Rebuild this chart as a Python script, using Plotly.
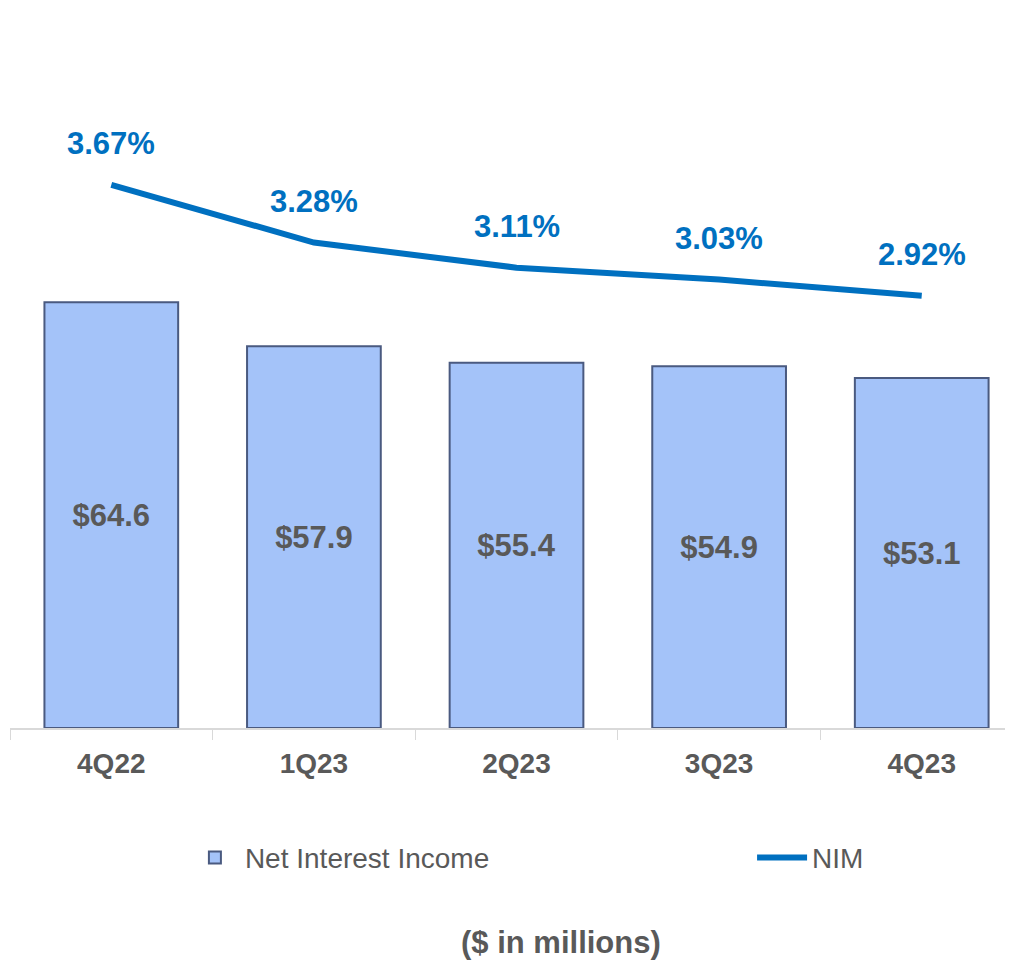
import plotly.graph_objects as go

quarters = ["4Q22", "1Q23", "2Q23", "3Q23", "4Q23"]
nii = [64.6, 57.9, 55.4, 54.9, 53.1]
nim = [3.67, 3.28, 3.11, 3.03, 2.92]
nii_labels = ["$64.6", "$57.9", "$55.4", "$54.9", "$53.1"]
nim_labels = ["3.67%", "3.28%", "3.11%", "3.03%", "2.92%"]

FONT = "Liberation Sans, Arial, sans-serif"
GRAY = "#595959"
BLUE = "#0070C0"

fig = go.Figure()
fig.add_trace(go.Bar(
    x=quarters, y=nii, name="Net Interest Income",
    width=0.66, legend="legend",
    marker=dict(color="#A4C3F9", line=dict(color="#4A5A80", width=2)),
    text=nii_labels, textposition="inside", insidetextanchor="middle",
    textfont=dict(family=FONT, size=31, color=GRAY),
    texttemplate="<b>%{text}</b>",
    hoverinfo="skip",
))
fig.add_trace(go.Scatter(
    x=quarters, y=nim, name="NIM", mode="lines", yaxis="y2", legend="legend2",
    line=dict(color=BLUE, width=6),
    hoverinfo="skip",
))
for q, v, t in zip(quarters, nim, nim_labels):
    fig.add_annotation(x=q, y=v, yref="y2", text="<b>%s</b>" % t, showarrow=False,
                       yshift=41, font=dict(family=FONT, size=31, color=BLUE))

fig.add_annotation(x=0.545, y=-0.3353, xref="paper", yref="paper", text="<b>($ in millions)</b>",
                   showarrow=False, font=dict(family=FONT, size=31, color=GRAY))

legend_common = dict(orientation="h", y=-0.186, xanchor="left", yanchor="middle",
                     font=dict(family=FONT, size=28, color=GRAY), itemwidth=50,
                     bgcolor="rgba(0,0,0,0)")

fig.update_layout(
    width=1013, height=961,
    margin=dict(l=2, r=0, t=22, b=241),
    paper_bgcolor="white", plot_bgcolor="white",
    font=dict(family=FONT, color=GRAY),
    showlegend=True,
    legend=dict(x=0.173, **legend_common),
    legend2=dict(x=0.734, **legend_common),
    xaxis=dict(range=[-0.5, 4.49], showline=True, linecolor="#D9D9D9", linewidth=1.5,
               ticks="outside", tickson="boundaries", ticklen=10, tickcolor="#D9D9D9",
               ticklabelstandoff=10,
               tickfont=dict(family=FONT, size=28, color=GRAY), showgrid=False,
               tickprefix="<b>", ticksuffix="</b>"),
    yaxis=dict(range=[0, 105.9], visible=False, showgrid=False),
    yaxis2=dict(range=[0, 4.716], overlaying="y", side="right", visible=False, showgrid=False),
)

fig.write_html("out.html")
